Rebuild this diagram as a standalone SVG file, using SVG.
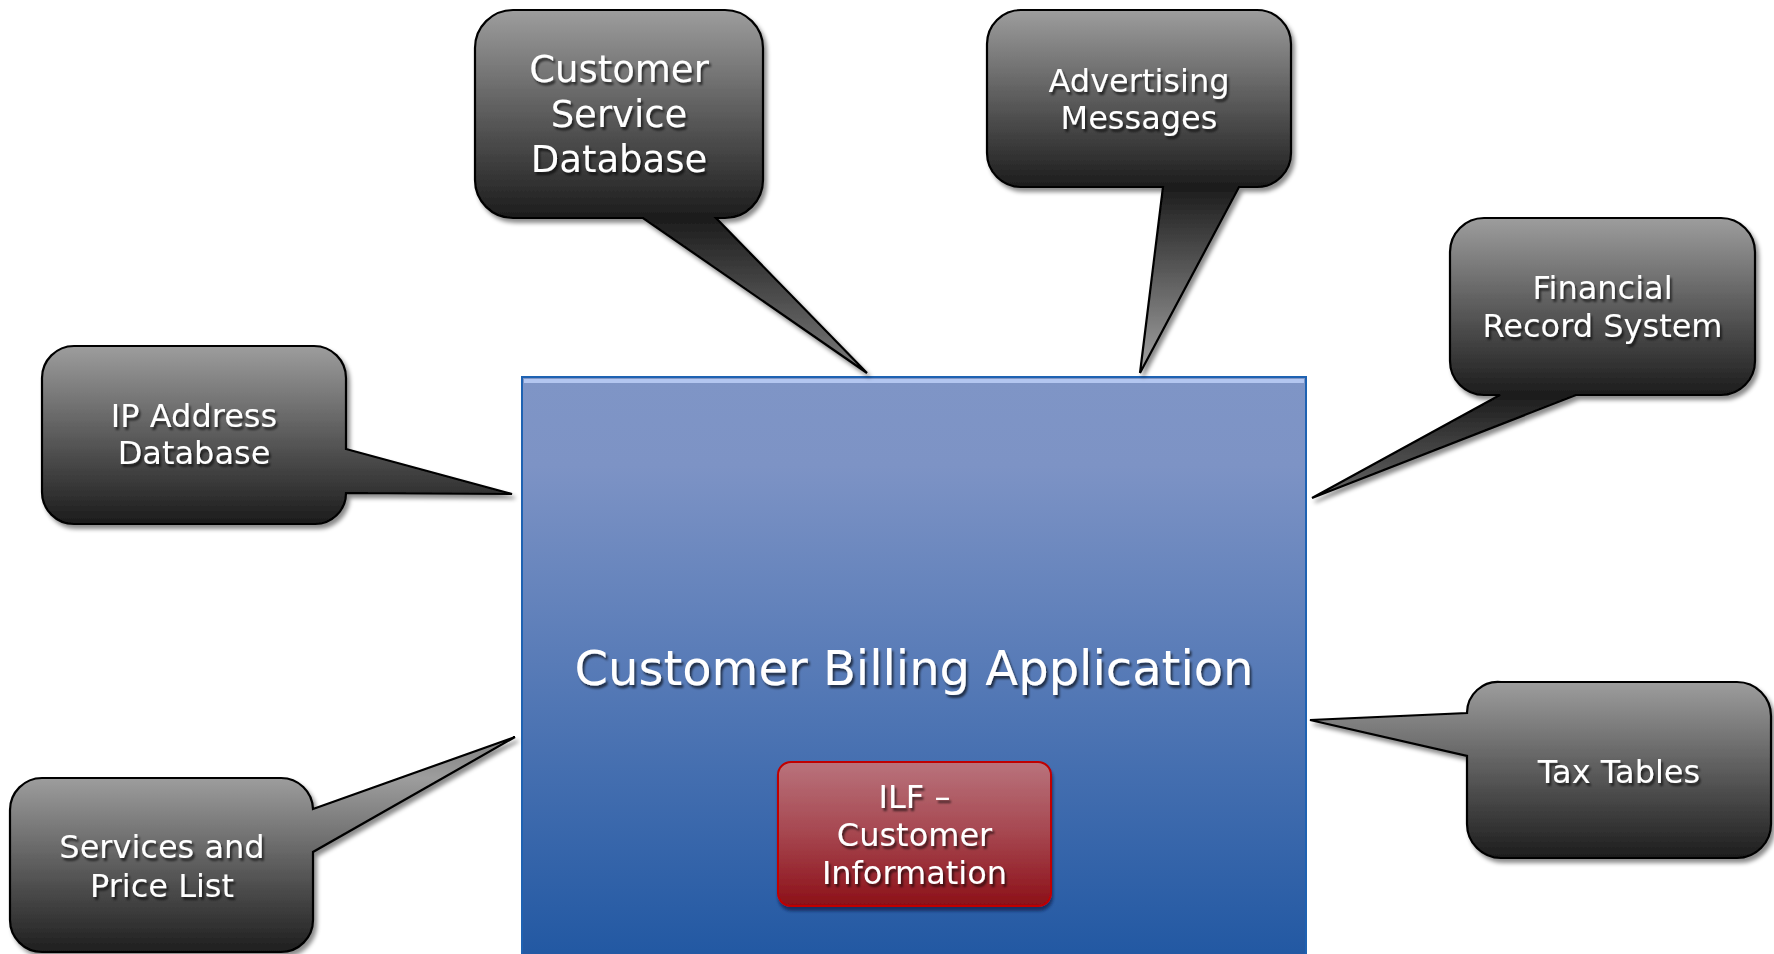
<svg xmlns="http://www.w3.org/2000/svg" width="1774" height="954" viewBox="0 0 1774 954">
<style>
.bub{stroke:#000;stroke-width:2.2;stroke-linejoin:miter;filter:url(#bshadow)}
.lbl{font-family:"DejaVu Sans",Verdana,sans-serif;fill:#fff;text-anchor:middle;filter:url(#tshadow)}
.s32{font-size:32px}
</style>
<defs>
<linearGradient id="g208" gradientUnits="userSpaceOnUse" x1="0" y1="0" x2="0" y2="208" spreadMethod="reflect">
<stop offset="0" stop-color="#9d9d9d"/><stop offset="0.5" stop-color="#5c5c5c"/><stop offset="1" stop-color="#1c1c1c"/>
</linearGradient>
<linearGradient id="g177" gradientUnits="userSpaceOnUse" x1="0" y1="0" x2="0" y2="177" spreadMethod="reflect">
<stop offset="0" stop-color="#9d9d9d"/><stop offset="0.5" stop-color="#5c5c5c"/><stop offset="1" stop-color="#1c1c1c"/>
</linearGradient>
<linearGradient id="gmain" x1="0" y1="0" x2="0" y2="1">
<stop offset="0" stop-color="#7f95c6"/><stop offset="0.15" stop-color="#7d93c5"/><stop offset="1" stop-color="#2057a2"/>
</linearGradient>
<linearGradient id="gilf" x1="0" y1="0" x2="0" y2="1">
<stop offset="0" stop-color="#b9737c"/><stop offset="0.5" stop-color="#a6464f"/><stop offset="1" stop-color="#8c1018"/>
</linearGradient>
<filter id="bshadow" x="-20%" y="-20%" width="140%" height="140%">
<feDropShadow dx="3" dy="4" stdDeviation="2" flood-color="#000" flood-opacity="0.45"/>
</filter>
<filter id="tshadow" x="-10%" y="-30%" width="120%" height="160%">
<feDropShadow dx="2" dy="3" stdDeviation="1.2" flood-color="#000" flood-opacity="0.6"/>
</filter>
<filter id="ishadow" x="-10%" y="-10%" width="120%" height="130%">
<feDropShadow dx="1" dy="4" stdDeviation="1.5" flood-color="#0a1f44" flood-opacity="0.7"/>
</filter>
</defs>
<rect width="1774" height="954" fill="#fff"/>

<g id="main-app">
<rect x="522" y="377" width="784" height="590" fill="url(#gmain)" stroke="#1e62b2" stroke-width="2"/>
<rect x="524" y="379" width="780" height="4" fill="#b3c6f0"/>
<text class="lbl" x="914" y="685" font-size="48">Customer Billing Application</text>
</g>

<g id="ilf">
<rect x="778" y="762" width="273" height="144" rx="13" fill="url(#gilf)" stroke="#c00000" stroke-width="2" filter="url(#ishadow)"/>
<text class="lbl s32" x="914.5"><tspan x="914.5" y="808">ILF –</tspan><tspan x="914.5" y="846">Customer</tspan><tspan x="914.5" y="884">Information</tspan></text>
</g>

<g id="connectors">
</g>

<g id="customer-service-db" transform="translate(475,10)">
<path class="bub" fill="url(#g208)" d="M38,0 H250 A38,38 0 0 1 288,38 V170 A38,38 0 0 1 250,208 H241 L392,363 L168,208 H38 A38,38 0 0 1 0,170 V38 A38,38 0 0 1 38,0 Z"/>
<text class="lbl" font-size="37"><tspan x="144" y="72">Customer</tspan><tspan x="144" y="117">Service</tspan><tspan x="144" y="162">Database</tspan></text>
</g>

<g id="advertising" transform="translate(987,10)">
<path class="bub" fill="url(#g177)" d="M34,0 H270 A34,34 0 0 1 304,34 V143 A34,34 0 0 1 270,177 H252 L153,363 L176,177 H34 A34,34 0 0 1 0,143 V34 A34,34 0 0 1 34,0 Z"/>
<text class="lbl s32"><tspan x="152" y="82">Advertising</tspan><tspan x="152" y="119">Messages</tspan></text>
</g>

<g id="ip-address" transform="translate(42,346)">
<path class="bub" fill="url(#g177)" d="M32,0 H272 A32,32 0 0 1 304,32 V103 L470,148 L304,147 A31,31 0 0 1 272,178 H32 A32,32 0 0 1 0,146 V32 A32,32 0 0 1 32,0 Z"/>
<text class="lbl s32"><tspan x="152" y="81">IP Address</tspan><tspan x="152" y="118">Database</tspan></text>
</g>

<g id="financial" transform="translate(1450,218)">
<path class="bub" fill="url(#g177)" d="M34,0 H271 A34,34 0 0 1 305,34 V143 A34,34 0 0 1 271,177 H126 L-138,280 L50,177 H34 A34,34 0 0 1 0,143 V34 A34,34 0 0 1 34,0 Z"/>
<text class="lbl s32"><tspan x="152.5" y="81">Financial</tspan><tspan x="152.5" y="119">Record System</tspan></text>
</g>

<g id="services" transform="translate(10,778)">
<path class="bub" fill="url(#g177)" d="M32,0 H271 A32,32 0 0 1 303,31 L505,-41 L303,74 V142 A32,32 0 0 1 271,174 H32 A32,32 0 0 1 0,142 V32 A32,32 0 0 1 32,0 Z"/>
<text class="lbl s32"><tspan x="152" y="80">Services and</tspan><tspan x="152" y="119">Price List</tspan></text>
</g>

<g id="tax-tables" transform="translate(1467,682)">
<path class="bub" fill="url(#g177)" d="M34,0 H270 A34,34 0 0 1 304,34 V142 A34,34 0 0 1 270,176 H34 A34,34 0 0 1 0,142 V74 L-157,38 L0,31 A31,31 0 0 1 34,0 Z"/>
<text class="lbl s32"><tspan x="152" y="101">Tax Tables</tspan></text>
</g>
</svg>
